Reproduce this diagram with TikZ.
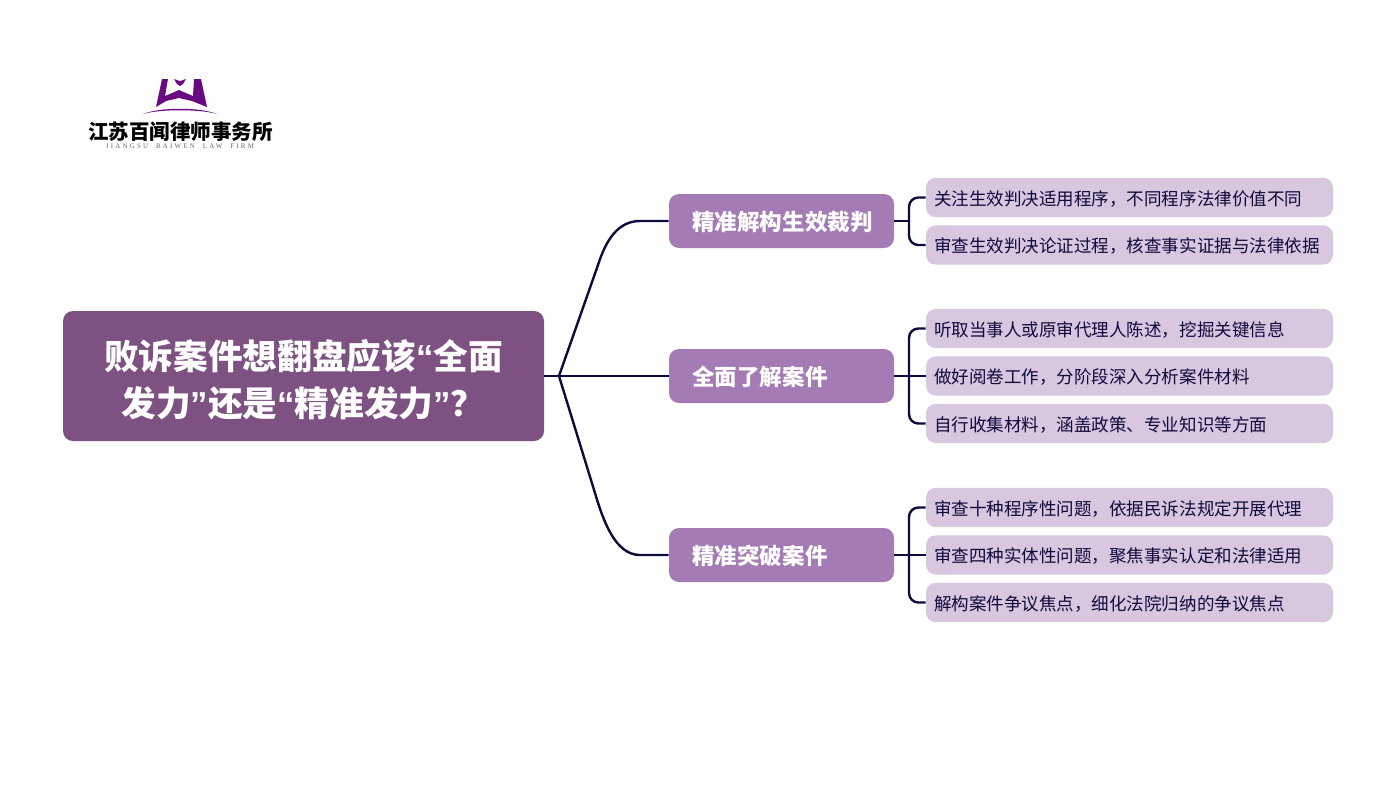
\documentclass[tikz,border=0pt]{standalone}
\usepackage{fontspec}
\setmainfont{Noto Sans CJK SC}
\newfontfamily\quotefont{Liberation Sans}
\newfontfamily\firmfont[LetterSpace=32]{Liberation Serif}
\definecolor{rootfill}{HTML}{7D5282}
\definecolor{branchfill}{HTML}{A57BB5}
\definecolor{leaffill}{HTML}{D9C6DF}
\definecolor{linkcol}{HTML}{0F0A3C}
\definecolor{logopurple}{HTML}{6A0A80}
\tikzset{
	rootbox/.style={fill=rootfill,rounded corners=7.5pt,minimum width=360.75pt,minimum height=97.5pt,inner sep=0pt,text=white,font=\fontsize{26pt}{35pt}\bfseries\selectfont,align=center,text height=63pt},
	branchbox/.style={fill=branchfill,rounded corners=7.5pt,minimum width=168.75pt,minimum height=40.5pt,inner xsep=17.5pt,inner ysep=0pt,text=white,font=\fontsize{16.9pt}{20pt}\bfseries\selectfont,text width=133.75pt,align=left,text height=16.4pt,text depth=2pt},
	leafbox/.style={fill=leaffill,rounded corners=7.5pt,minimum width=305.25pt,minimum height=29.6pt,inner xsep=6pt,inner ysep=0pt,text=linkcol,font=\fontsize{13.15pt}{16pt}\selectfont,text width=293.25pt,align=left,text height=13pt,text depth=1.6pt},
	link/.style={draw=linkcol,line width=1.8pt},
	logotext/.style={inner sep=0pt,text=black,font=\fontsize{15.4pt}{18pt}\bfseries\selectfont}
}
\newcommand{\qo}{{\quotefont\bfseries “}}
\newcommand{\qc}{{\quotefont\bfseries ”}}
\begin{document}
\begin{tikzpicture}[x=0.75pt,y=-0.75pt]
	\useasboundingbox (0,0) rectangle (1396,800);
	% logo
	\fill[logopurple] (162,79)--(168,79)--(165,96)--(179,90)--(193,96)--(194,79)--(201,79)--(207,107)--(192,101)--(179,98)--(166,101)--(156,107)--cycle;
	\fill[logopurple] (174,79)--(180,81)--(186,79)--(183,84)--(180,86)--(177,84)--cycle;
	\fill[logopurple] (143,114) .. controls (160,107) and (200,107) .. (217,114) .. controls (200,109) and (160,109) .. (143,114) -- cycle;
	\node[logotext] (firm) at (180.5,132) {江苏百闻律师事务所};
	\node[inner sep=0pt,text=black!60,font=\fontsize{5.2pt}{6pt}\firmfont] (firmen) at (180,146.5) {JIANGSU\ \ BAIWEN\ \ LAW\ \ FIRM};
	% nodes
	\node[rootbox] (root) at (303.5,376) {败诉案件想翻盘应该\qo 全面\\发力\qc 还是\qo 精准发力\qc ？};
	\node[branchbox] (caipan) at (781.5,221) {精准解构生效裁判};
	\node[branchbox] (liaojie) at (781.5,376) {全面了解案件};
	\node[branchbox] (tupo) at (781.5,555) {精准突破案件};
	\node[leafbox] (chengxu) at (1129.5,197.5) {关注生效判决适用程序，不同程序法律价值不同};
	\node[leafbox] (lunzheng) at (1129.5,245) {审查生效判决论证过程，核查事实证据与法律依据};
	\node[leafbox] (tingqu) at (1129.5,328.5) {听取当事人或原审代理人陈述，挖掘关键信息};
	\node[leafbox] (yuejuan) at (1129.5,376) {做好阅卷工作，分阶段深入分析案件材料};
	\node[leafbox] (shouji) at (1129.5,423.5) {自行收集材料，涵盖政策、专业知识等方面};
	\node[leafbox] (shizhong) at (1129.5,507.5) {审查十种程序性问题，依据民诉法规定开展代理};
	\node[leafbox] (sizhong) at (1129.5,555) {审查四种实体性问题，聚焦事实认定和法律适用};
	\node[leafbox] (jiegou) at (1129.5,602.5) {解构案件争议焦点，细化法院归纳的争议焦点};
	% connectors
	\coordinate (hub) at (559,376);
	\draw[link] (root.east)--(hub)--(liaojie.west);
	\draw[link] (hub)--(598,265) .. controls (606,240) and (618,221) .. (640,221)--(caipan.west);
	\draw[link] (hub)--(595,493) .. controls (603,520) and (615,555) .. (640,555)--(tupo.west);
	\coordinate (spinea) at (909,221);
	\coordinate (spineb) at (909,376);
	\coordinate (spinec) at (909,555);
	\draw[link] (caipan.east)--(spinea);
	\draw[link,rounded corners=7pt] (chengxu.west)-|(spinea)|-(lunzheng.west);
	\draw[link] (liaojie.east)--(yuejuan.west);
	\draw[link,rounded corners=7pt] (tingqu.west)-|(spineb)|-(shouji.west);
	\draw[link] (tupo.east)--(sizhong.west);
	\draw[link,rounded corners=7pt] (shizhong.west)-|(spinec)|-(jiegou.west);
\end{tikzpicture}
\end{document}
